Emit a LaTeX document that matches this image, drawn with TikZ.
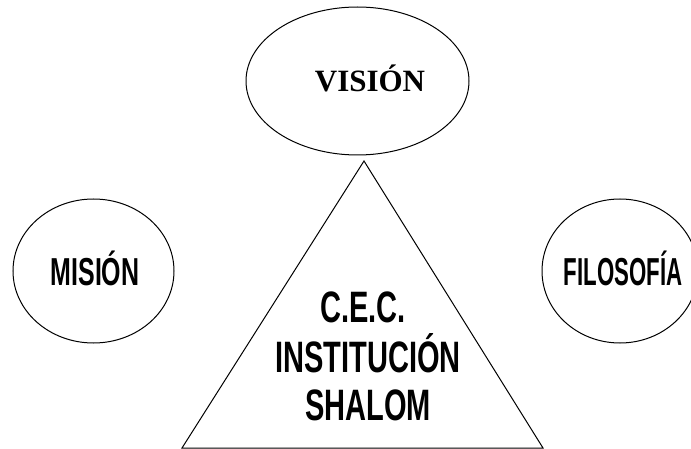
\documentclass[tikz,border=0pt]{standalone}
\usepackage{fontspec}
\usetikzlibrary{shapes.geometric}
\newfontfamily\visfont{Liberation Serif}
\newfontfamily\cecfont[FakeStretch=0.66]{Liberation Sans}
\newfontfamily\misfont[FakeStretch=0.64]{Liberation Sans}
\newfontfamily\filfont[FakeStretch=0.57]{Liberation Sans}
\begin{document}
\begin{tikzpicture}[x=1pt,y=-1pt,
  oval/.style={draw=black,line width=1pt,ellipse,inner sep=0pt},
  lbl/.style={anchor=base,inner sep=0pt}]
\useasboundingbox (0,0) rectangle (691,449);
% ellipses
\node[oval,minimum width=223pt,minimum height=148pt] (vision) at (357.5,81) {};
\node[oval,minimum width=161pt,minimum height=144pt] (mision) at (93.5,271) {};
\node[oval,minimum width=156pt,minimum height=144pt] (filosofia) at (620,271) {};
% labels
\node[lbl,font=\visfont\bfseries\fontsize{31}{31}\selectfont] (tvision) at (370,92) {VISIÓN};
\node[lbl,font=\misfont\bfseries\fontsize{39}{39}\selectfont] (tmision) at (95,285) {MISIÓN};
\node[lbl,font=\filfont\bfseries\fontsize{39}{39}\selectfont] (tfilosofia) at (623,285) {FILOSOFÍA};
% triangle
\coordinate (apex) at (364,161);
\coordinate (bl) at (182,448);
\coordinate (br) at (543,448);
\draw[line width=1pt,line join=miter] (apex) -- (bl) -- (br) -- cycle;
\node[lbl,font=\cecfont\bfseries\fontsize{44}{44}\selectfont] (cec1) at (363,323) {C.E.C.};
\node[lbl,font=\cecfont\bfseries\fontsize{44}{44}\selectfont] (cec2) at (368,372) {INSTITUCIÓN};
\node[lbl,font=\cecfont\bfseries\fontsize{44}{44}\selectfont] (cec3) at (368,420) {SHALOM};
\end{tikzpicture}
\end{document}
